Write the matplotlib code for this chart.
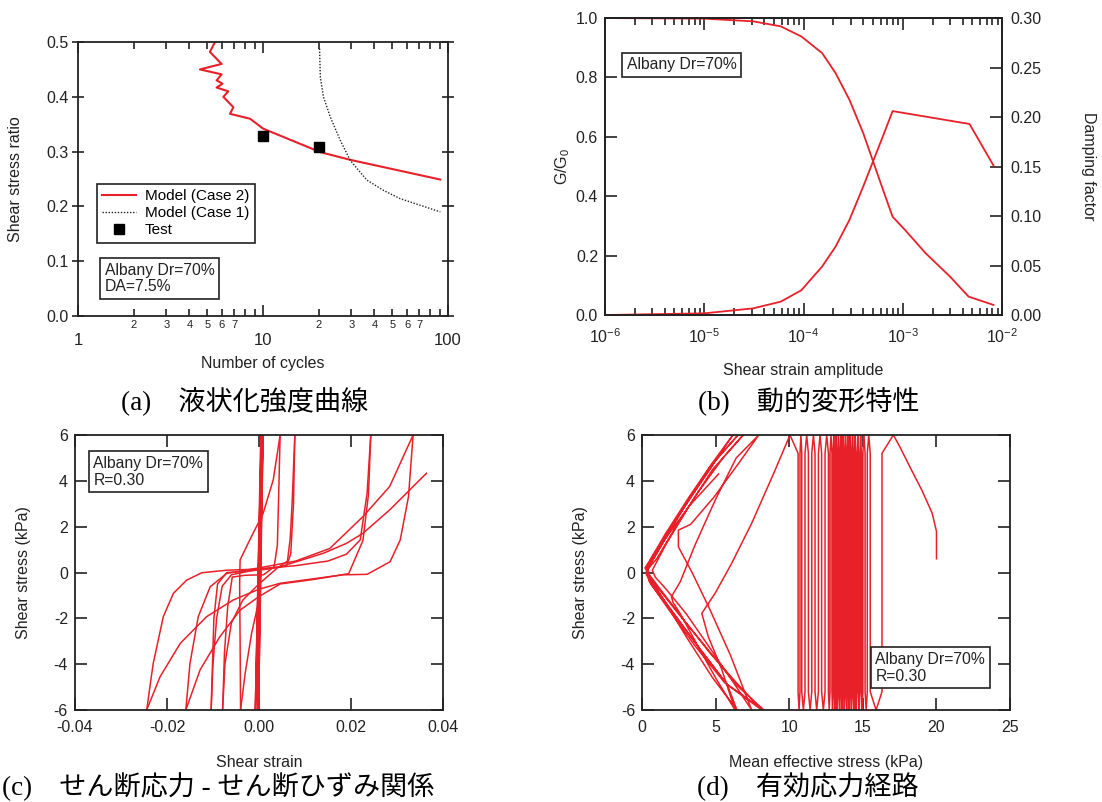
import numpy as np
import matplotlib.pyplot as plt
from matplotlib.ticker import FixedLocator, FuncFormatter, LogLocator, MultipleLocator, NullFormatter

plt.rcParams['font.family'] = ['Liberation Sans', 'DejaVu Sans']
plt.rcParams['mathtext.fontset'] = 'custom'
plt.rcParams['mathtext.rm'] = 'Liberation Sans'
plt.rcParams['mathtext.it'] = 'Liberation Sans:italic'
plt.rcParams['axes.unicode_minus'] = False

RED = '#e8202a'
INK = '#222222'
TICK_FS = 11.5
LABEL_FS = 11.5

# (a) liquefaction strength curve
cyc_case2 = [5.50, 5.16, 5.97, 4.56, 5.97, 5.61, 6.04, 5.61, 6.49, 6.10, 6.91, 6.63, 8.51, 10.0, 20.4, 29.6, 48.7, 90.8]
ratio_case2 = [0.500, 0.482, 0.460, 0.450, 0.441, 0.430, 0.424, 0.417, 0.410, 0.400, 0.381, 0.369, 0.360, 0.342, 0.299, 0.285, 0.269, 0.249]
cyc_case1 = [20.2, 20.4, 21.2, 23.1, 26.1, 29.6, 36.4, 44.9, 55.2, 90.8]
ratio_case1 = [0.488, 0.436, 0.400, 0.363, 0.321, 0.284, 0.248, 0.229, 0.214, 0.190]
cyc_test = [10.0, 20.1]
ratio_test = [0.328, 0.308]

# (b) modulus reduction and damping
strain_g = [1e-6, 1e-5, 3.1e-5, 5.9e-5, 9.5e-5, 1.54e-4, 2.1e-4, 2.9e-4, 4.0e-4, 5.1e-4, 6.5e-4, 7.9e-4, 1.05e-3, 1.7e-3, 3.0e-3, 4.6e-3, 8.2e-3]
g_ratio = [1.0, 0.998, 0.989, 0.972, 0.938, 0.882, 0.815, 0.725, 0.612, 0.511, 0.410, 0.331, 0.287, 0.208, 0.129, 0.062, 0.034]
strain_h = [1e-6, 1e-5, 3.1e-5, 5.9e-5, 9.5e-5, 1.54e-4, 2.1e-4, 2.9e-4, 4.0e-4, 5.1e-4, 6.5e-4, 7.9e-4, 4.7e-3, 8.2e-3]
damping = [0.0, 0.0017, 0.0067, 0.0135, 0.025, 0.049, 0.069, 0.096, 0.130, 0.157, 0.184, 0.206, 0.193, 0.151]

# (c) stress-strain loops, one list per half cycle
ss_branches = [
    ([0.0, 0.0008, -0.0001, 0.0009, -0.0004, 0.0005, -0.0008, 0.0004],
     [0.0, 6.0, -6.0, 6.0, -6.0, 6.0, -6.0, 6.0]),
    ([0.0004, 0.0003, 0.0, -0.0016, -0.0030, -0.0040],
     [6.0, 2.0, -1.2, -2.65, -4.4, -6.0]),
    ([-0.0040, -0.0041, -0.0042, -0.0041, -0.0020, 0.0009, 0.0031, 0.0046],
     [-6.0, -3.0, -0.5, 0.55, 1.42, 2.58, 4.04, 6.0]),
    ([0.0046, 0.0043, 0.0040, 0.0033, 0.0010, -0.0030, -0.0058, -0.0068, -0.0075, -0.0079],
     [6.0, 3.5, 1.2, 0.25, -0.1, -0.12, -0.2, -1.5, -3.5, -6.0]),
    ([-0.0079, -0.0074, -0.0060, -0.0035, 0.0, 0.0040, 0.0062, 0.0068, 0.0072, 0.0078],
     [-6.0, -4.0, -2.2, -1.2, -0.5, 0.2, 0.5, 1.5, 3.0, 6.0]),
    ([0.0078, 0.0075, 0.0069, 0.0060, 0.0020, -0.0030, -0.0070, -0.0090, -0.0098, -0.0104],
     [6.0, 3.0, 0.8, 0.3, 0.15, 0.05, 0.0, -0.5, -2.0, -6.0]),
    ([-0.0104, -0.0100, -0.0092, -0.0080, -0.0060, 0.0, 0.0080, 0.0150, 0.0190, 0.0220, 0.0235, 0.0243],
     [-6.0, -4.0, -2.0, -0.6, -0.1, 0.15, 0.3, 0.5, 0.8, 1.42, 3.45, 6.0]),
    ([0.0243, 0.0238, 0.0226, 0.0195, 0.0120, 0.0046, 0.0, -0.0041, -0.0085, -0.0128, -0.0159],
     [6.0, 3.4, 1.4, -0.05, -0.3, -0.5, -1.05, -1.64, -2.8, -4.25, -6.0]),
    ([-0.0159, -0.0150, -0.0132, -0.0106, -0.0070, 0.0, 0.0080, 0.0154, 0.0226, 0.0284, 0.0335],
     [-6.0, -3.97, -1.93, -0.62, -0.04, 0.2, 0.5, 1.05, 2.44, 3.75, 6.0]),
    ([0.0335, 0.0325, 0.0307, 0.0285, 0.0235, 0.0183, 0.0046, 0.0, -0.0056, -0.0114, -0.0171, -0.0215, -0.0244],
     [6.0, 3.31, 1.42, 0.47, -0.08, -0.1, -0.47, -0.73, -1.2, -1.93, -3.09, -4.55, -6.0]),
    ([-0.0244, -0.0230, -0.0208, -0.0186, -0.0157, -0.0124, -0.0070, 0.0, 0.0046, 0.0140, 0.0190, 0.0226, 0.0284, 0.0364],
     [-6.0, -3.98, -1.93, -0.91, -0.33, -0.01, 0.10, 0.15, 0.25, 0.84, 1.27, 1.71, 2.73, 4.33]),
]

# (d) effective stress path
d_init_p = [20.0, 20.0, 19.7, 19.0, 18.2, 17.5, 17.07]
d_init_q = [0.6, 1.8, 2.6, 3.6, 4.6, 5.5, 6.0]
# mean effective stress of each near-vertical pass between +6 and -6 kPa
d_pass_p = [16.3, 15.5, 15.3, 15.15, 15.0, 14.9, 14.8, 14.7, 14.6, 14.5, 14.42, 14.34, 14.26, 14.18,
            14.1, 14.02, 13.94, 13.86, 13.78, 13.7, 13.62, 13.54, 13.46, 13.38, 13.3, 13.22, 13.14,
            13.06, 12.98, 12.9, 12.77, 12.66, 12.43, 12.2, 11.98, 11.75, 11.53, 11.3, 11.07, 10.85,
            10.73, 10.6]
d_liq_p = [10.05, 9.04, 7.45, 6.09, 4.96, 4.06, 4.5, 5.4, 6.32,
           5.0, 3.7, 2.6, 2.1, 2.0, 2.6, 3.6, 5.0, 6.4, 7.93,
           6.6, 4.9, 3.3, 2.47, 2.47, 3.4, 4.6, 6.0, 7.45,
           6.0, 4.4, 3.0, 1.6, 0.9, 0.7, 1.6, 3.2, 4.8, 6.87,
           5.5, 3.8, 2.2, 1.0, 0.4, 0.3, 0.8, 2.3, 4.0, 5.8, 8.13,
           6.4, 4.6, 3.0, 1.2, 0.5, 0.2, 1.0, 2.6, 4.4, 6.17,
           4.8, 3.2, 1.6, 0.6, 0.3, 0.5, 1.8, 3.6, 5.6, 8.28,
           6.4, 4.4, 2.6, 1.0, 0.4, 0.3, 1.4, 3.0, 4.6, 6.52,
           5.0, 3.3, 1.7, 0.7, 0.3, 0.6, 2.0, 3.9, 5.8, 6.45,
           4.8, 3.0, 1.2, 0.5, 0.4, 1.5, 3.2, 5.2]
d_liq_q = [6.0, 4.47, 2.15, 0.4, -0.91, -1.78, -2.8, -4.2, -6.0,
           -4.6, -3.1, -1.8, -1.3, -1.05, -0.4, 1.2, 3.2, 5.0, 6.0,
           4.8, 3.3, 2.1, 1.85, 1.12, 0.0, -1.6, -3.6, -6.0,
           -4.6, -3.1, -1.8, -0.7, -0.2, 0.1, 1.2, 2.9, 4.5, 6.0,
           5.0, 3.5, 1.9, 0.6, 0.15, -0.1, -0.6, -1.9, -3.4, -4.9, -6.0,
           -4.8, -3.5, -2.2, -0.7, -0.1, 0.2, 1.0, 2.6, 4.3, 6.0,
           4.8, 3.3, 1.7, 0.6, 0.05, -0.4, -1.6, -3.2, -4.8, -6.0,
           -4.9, -3.3, -1.9, -0.6, -0.1, 0.2, 1.4, 3.0, 4.6, 6.0,
           4.9, 3.3, 1.6, 0.5, 0.0, -0.5, -1.7, -3.3, -4.9, -6.0,
           -4.6, -2.8, -0.9, -0.2, 0.2, 1.4, 2.9, 4.3]


def style_frame(ax):
    for s in ax.spines.values():
        s.set_linewidth(1.3)
        s.set_color(INK)


def note(ax, x, y, txt, va='top'):
    ax.text(x, y, txt, transform=ax.transAxes, fontsize=11.3, color=INK, va=va, ha='left',
            linespacing=1.15, zorder=5,
            bbox=dict(boxstyle='square,pad=0.3', fc='white', ec=INK, lw=1.2))


fig = plt.figure(figsize=(11.02, 8.02), dpi=100)
fig.patch.set_facecolor('white')

# ---- (a)
ax = fig.add_axes([0.0708, 0.606, 0.3358, 0.3416])
ax.plot(cyc_case2, ratio_case2, color=RED, lw=1.5, label='Model (Case 2)')
ax.plot(cyc_case1, ratio_case1, color=INK, lw=1.0, ls=(0, (1, 1.2)), label='Model (Case 1)')
ax.plot(cyc_test, ratio_test, 's', color='black', ms=7, ls='none', label='Test')
ax.set_xscale('log')
ax.set_xlim(1, 100)
ax.set_ylim(0, 0.5)
ax.xaxis.set_major_locator(FixedLocator([1, 10, 100]))
ax.xaxis.set_major_formatter(FuncFormatter(lambda v, p: f'{v:g}'))
ax.xaxis.set_minor_locator(LogLocator(base=10, subs=range(2, 10)))


def minor_digit(v, pos):
    d = int(round(v / 10 ** np.floor(np.log10(v))))
    return str(d) if 2 <= d <= 7 else ''


ax.xaxis.set_minor_formatter(FuncFormatter(minor_digit))
ax.yaxis.set_major_locator(MultipleLocator(0.1))
ax.yaxis.set_major_formatter(FuncFormatter(lambda v, p: f'{v:.1f}'))
style_frame(ax)
ax.tick_params(axis='x', which='both', direction='in', top=True, colors=INK, width=1.2)
ax.tick_params(axis='x', which='major', length=8, pad=12, labelsize=12)
ax.tick_params(axis='x', which='minor', length=5, pad=3, labelsize=8)
ax.tick_params(axis='y', direction='inout', right=True, length=9, width=1.2, colors=INK,
               labelsize=TICK_FS, pad=2)
ax.set_xlabel('Number of cycles', fontsize=LABEL_FS, color=INK)
ax.xaxis.set_label_coords(0.5, -0.145)
ax.set_ylabel('Shear stress ratio', fontsize=LABEL_FS, color=INK)
ax.yaxis.set_label_coords(-0.15, 0.5)
leg = ax.legend(loc='upper left', bbox_to_anchor=(0.051, 0.482), frameon=True, fancybox=False,
                edgecolor=INK, framealpha=1, fontsize=11, handlelength=2.2, handletextpad=0.6,
                labelspacing=0.2, borderpad=0.35, borderaxespad=0)
leg.get_frame().set_linewidth(1.2)
note(ax, 0.073, 0.195, 'Albany Dr=70%\nDA=7.5%')

# ---- (b)
ax = fig.add_axes([0.549, 0.6072, 0.3603, 0.3703])
ax2 = ax.twinx()
ax.plot(strain_g, g_ratio, color=RED, lw=1.3)
ax2.plot(strain_h, damping, color=RED, lw=1.3)
ax.set_xscale('log')
ax.set_xlim(1e-6, 1e-2)
ax.set_ylim(0, 1.0)
ax2.set_ylim(0, 0.3)
ax.xaxis.set_major_locator(LogLocator(base=10, numticks=10))
ax.xaxis.set_minor_locator(LogLocator(base=10, subs=range(2, 10), numticks=50))
ax.xaxis.set_minor_formatter(NullFormatter())
ax.yaxis.set_major_locator(MultipleLocator(0.2))
ax.yaxis.set_major_formatter(FuncFormatter(lambda v, p: f'{v:.1f}'))
ax2.yaxis.set_major_locator(MultipleLocator(0.05))
ax2.yaxis.set_major_formatter(FuncFormatter(lambda v, p: f'{v:.2f}'))
style_frame(ax)
style_frame(ax2)
ax.tick_params(axis='x', which='both', direction='in', top=True, colors=INK, width=1.2,
               labelsize=TICK_FS)
ax.tick_params(axis='x', which='major', length=8.5, pad=9)
ax.tick_params(axis='x', which='minor', length=5)
ax.tick_params(axis='y', direction='in', length=8.5, width=1.2, colors=INK, labelsize=TICK_FS, pad=5)
ax2.tick_params(axis='y', direction='in', length=8.5, width=1.2, colors=INK, labelsize=TICK_FS, pad=6)
ax.set_xlabel('Shear strain amplitude', fontsize=LABEL_FS, color=INK)
ax.xaxis.set_label_coords(0.5, -0.163)
ax.set_ylabel('G/G$_0$', fontsize=LABEL_FS, color=INK)
ax.yaxis.set_label_coords(-0.083, 0.5)
ax2.set_ylabel('Damping factor', fontsize=LABEL_FS, color=INK, rotation=270, va='center')
ax2.yaxis.set_label_coords(1.217, 0.5)
note(ax, 0.055, 0.842, 'Albany Dr=70%', va='center')

# ---- (c)
ax = fig.add_axes([0.068, 0.1147, 0.334, 0.3429])
for xs, ys in ss_branches:
    ax.plot(xs, ys, color=RED, lw=1.1)
ax.set_xlim(-0.04, 0.04)
ax.set_ylim(-6, 6)
ax.xaxis.set_major_locator(MultipleLocator(0.02))
ax.xaxis.set_major_formatter(FuncFormatter(lambda v, p: f'{v:.2f}'))
ax.yaxis.set_major_locator(MultipleLocator(2))
ax.yaxis.set_major_formatter(FuncFormatter(lambda v, p: f'{v:.0f}'))
style_frame(ax)
ax.tick_params(direction='in', top=True, right=True, length=8.5, width=1.2, colors=INK,
               labelsize=TICK_FS)
ax.tick_params(axis='x', pad=7)
ax.tick_params(axis='y', pad=5)
ax.set_xlabel('Shear strain', fontsize=LABEL_FS, color=INK)
ax.xaxis.set_label_coords(0.5, -0.162)
ax.set_ylabel('Shear stress (kPa)', fontsize=LABEL_FS, color=INK)
ax.yaxis.set_label_coords(-0.12, 0.5)
note(ax, 0.05, 0.924, 'Albany Dr=70%\nR=0.30')

# ---- (d)
path_p = list(d_init_p)
path_q = list(d_init_q)
for i, p in enumerate(d_pass_p):
    side = 1 if i % 2 == 0 else -1
    if i > 0:
        path_p.append((d_pass_p[i - 1] + p) / 2)
        path_q.append(6.0 * side)
    path_p += [p, p]
    path_q += [5.2 * side, -5.2 * side]
path_p += d_liq_p
path_q += d_liq_q

ax = fig.add_axes([0.5826, 0.1147, 0.334, 0.3429])
ax.plot(path_p, path_q, color=RED, lw=1.1)
ax.set_xlim(0, 25)
ax.set_ylim(-6, 6)
ax.xaxis.set_major_locator(MultipleLocator(5))
ax.yaxis.set_major_locator(MultipleLocator(2))
ax.yaxis.set_major_formatter(FuncFormatter(lambda v, p: f'{v:.0f}'))
style_frame(ax)
ax.tick_params(direction='in', top=True, right=True, length=8.5, width=1.2, colors=INK,
               labelsize=TICK_FS)
ax.tick_params(axis='x', pad=7)
ax.tick_params(axis='y', pad=5)
ax.set_xlabel('Mean effective stress (kPa)', fontsize=LABEL_FS, color=INK)
ax.xaxis.set_label_coords(0.5, -0.162)
ax.set_ylabel('Shear stress (kPa)', fontsize=LABEL_FS, color=INK)
ax.yaxis.set_label_coords(-0.147, 0.5)
note(ax, 0.634, 0.211, 'Albany Dr=70%\nR=0.30')

# panel captions
cap = dict(fontsize=19.5, family=['Liberation Serif', 'Noto Sans CJK JP'], color='black', va='center')
fig.text(245 / 1102, 1 - 402 / 802, '(a)\u3000液状化強度曲線', ha='center', **cap)
fig.text(809 / 1102, 1 - 402 / 802, '(b)\u3000動的変形特性', ha='center', **cap)
fig.text(2 / 1102, 1 - 787 / 802, '(c)\u3000せん断応力 - せん断ひずみ関係', ha='left', **cap)
fig.text(808 / 1102, 1 - 787 / 802, '(d)\u3000有効応力経路', ha='center', **cap)

fig.savefig('out.png', dpi=100, facecolor='white')
